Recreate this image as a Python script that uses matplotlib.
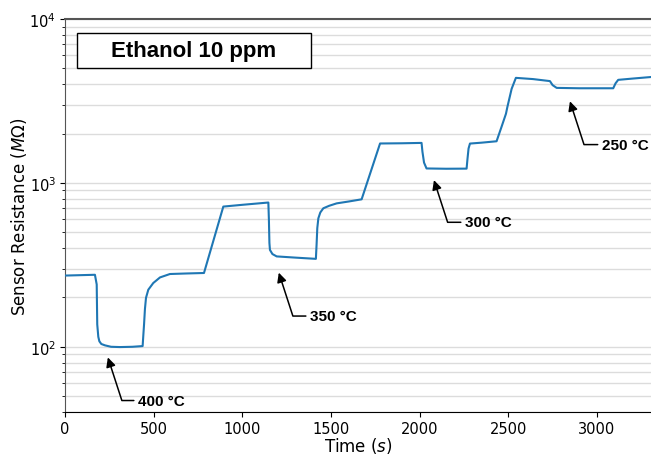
import numpy as np
import matplotlib
matplotlib.use('Agg')
import matplotlib.pyplot as plt
from matplotlib.patches import Rectangle

# sensor trace: time (s), resistance (MOhm)
time_s = [0, 169, 179, 182, 188, 194, 205, 226, 260, 310, 380, 438,
          442, 446, 451, 457, 470, 498, 536, 592, 680, 784,
          893, 1000, 1147, 1150, 1153, 1156, 1170, 1194, 1300, 1415,
          1419, 1423, 1429, 1440, 1457, 1490, 1532, 1600, 1673,
          1777, 1900, 2011, 2016, 2025, 2039, 2150, 2265,
          2270, 2276, 2284, 2350, 2434, 2462, 2487, 2495, 2519, 2543,
          2640, 2735, 2750, 2773, 2900, 3092, 3105, 3120, 3200, 3305]
resist = [272, 275, 240, 137, 115, 108, 104, 102, 100, 99.6, 100, 101,
          118, 137, 170, 199, 223, 245, 265, 278, 280, 282,
          717, 735, 759, 600, 430, 390, 368, 356, 350, 344,
          420, 530, 608, 660, 700, 725, 750, 770, 794,
          1740, 1745, 1754, 1550, 1330, 1225, 1220, 1222,
          1400, 1620, 1738, 1760, 1795, 2197, 2642, 2905, 3749, 4375,
          4300, 4180, 3950, 3800, 3780, 3780, 4050, 4254, 4330, 4427]

labels = ['400 °C', '350 °C', '300 °C', '250 °C']
tip_t = [237, 1201, 2076, 2843]
tip_r = [89.4, 294, 1079, 3266]
text_t = [412, 1382, 2256, 3028]
text_r = [47.0, 154, 575, 1713]

fig = plt.figure(figsize=(6.51, 4.56), dpi=100)
ax = fig.add_axes([0.0998, 0.0943, 0.9002, 0.8618])

ax.plot(time_s, resist, color='#1f77b4', lw=1.5, zorder=3)

ax.set_yscale('log')
ax.set_ylim(40, 1e4)
ax.set_xlim(0, 3305)
ax.set_xticks([0, 500, 1000, 1500, 2000, 2500, 3000])

ax.grid(True, which='both', axis='y', color='#dcdcdc', lw=1.0, zorder=0)
ax.set_axisbelow(True)

ax.spines['right'].set_visible(False)
ax.spines['top'].set_color('#555555')
ax.spines['top'].set_linewidth(1.5)
ax.spines['left'].set_color('#555555')
ax.spines['bottom'].set_color('black')

ax.tick_params(axis='both', which='major', direction='out', length=3.5, labelsize=10.5, pad=3)
ax.tick_params(axis='y', which='minor', direction='out', length=2)

ax.set_xlabel('Time ($s$)', fontsize=12, labelpad=-0.5)
ax.set_ylabel(r'Sensor Resistance ($M\Omega$)', fontsize=12, labelpad=0.5)

for lab, tx, ty, px, py in zip(labels, text_t, text_r, tip_t, tip_r):
    ax.annotate(lab, xy=(px, py), xytext=(tx, ty), ha='left', va='center',
                fontsize=11, fontweight='bold', family='Liberation Sans',
                arrowprops=dict(arrowstyle='-|>', color='black', lw=1.1,
                                mutation_scale=14, shrinkA=1,
                                connectionstyle='angle,angleA=0,angleB=-72,rad=0'))

ax.add_patch(Rectangle((0.0205, 0.875), 0.3995, 0.089, transform=ax.transAxes,
                       facecolor='white', edgecolor='black', lw=1.0, zorder=4))
ax.text(0.22, 0.92, 'Ethanol 10 ppm', transform=ax.transAxes, ha='center', va='center',
        fontsize=16, fontweight='bold', family='Liberation Sans', zorder=5)

fig.savefig('out.png', dpi=100)
